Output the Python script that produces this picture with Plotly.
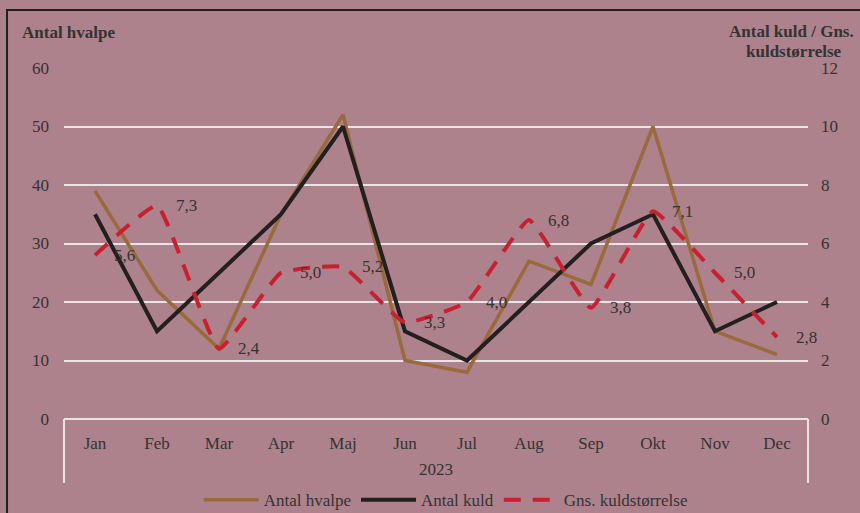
import plotly.graph_objects as go

months = ["Jan", "Feb", "Mar", "Apr", "Maj", "Jun", "Jul", "Aug", "Sep", "Okt", "Nov", "Dec"]
year = "2023"
hvalpe = [39, 22, 12, 35, 52, 10, 8, 27, 23, 50, 15, 11]
kuld = [7, 3, 5, 7, 10, 3, 2, 4, 6, 7, 3, 4]
gns = [5.6, 7.3, 2.4, 5.0, 5.2, 3.3, 4.0, 6.8, 3.8, 7.1, 5.0, 2.8]
gns_labels = [f"{v:.1f}".replace(".", ",") for v in gns]

FONT = "Liberation Serif"
TXT = "#333333"
BG = "#AE828C"
GRID = "#E8E4E6"
FS = 17

fig = go.Figure()
fig.add_trace(go.Scatter(x=months, y=hvalpe, name="Antal hvalpe", mode="lines",
                         line=dict(color="#986A3C", width=3.5)))
fig.add_trace(go.Scatter(x=months, y=kuld, name="Antal kuld", mode="lines", yaxis="y2",
                         line=dict(color="#231F20", width=4)))
fig.add_trace(go.Scatter(x=months, y=gns, name="Gns. kuldstørrelse", mode="lines", yaxis="y2",
                         line=dict(color="#C8202F", width=4, dash="17px,12px", shape="spline", smoothing=0.35)))

annotations = [
    dict(text="<b>Antal hvalpe</b>", xref="paper", yref="paper", x=-0.059, y=1.10,
         xanchor="left", yanchor="middle", showarrow=False,
         font=dict(family=FONT, size=17, color=TXT)),
    dict(text="<b>Antal kuld / Gns.</b>", xref="paper", yref="paper",
         x=1.063, y=1.105, xanchor="right", yanchor="middle", showarrow=False, borderpad=0,
         font=dict(family=FONT, size=17, color=TXT)),
    dict(text="<b>kuldstørrelse</b>", xref="paper", yref="paper",
         x=1.047, y=1.048, xanchor="right", yanchor="middle", showarrow=False, borderpad=0,
         font=dict(family=FONT, size=17, color=TXT)),
    dict(text=year, xref="paper", yref="paper", x=0.5, y=-0.145, xanchor="center", yanchor="middle",
         showarrow=False, font=dict(family=FONT, size=FS, color=TXT)),
]
for m, v, lab in zip(months, gns, gns_labels):
    annotations.append(dict(text=lab, x=m, y=v, xref="x", yref="y2", xanchor="left", yanchor="middle",
                            xshift=17, showarrow=False, font=dict(family=FONT, size=FS, color=TXT)))

fig.update_layout(
    width=860, height=513,
    paper_bgcolor=BG, plot_bgcolor=BG,
    margin=dict(l=64, r=52, t=68, b=94, autoexpand=False),
    font=dict(family=FONT, size=FS, color=TXT),
    showlegend=True,
    legend=dict(orientation="h", x=0.513, xanchor="center", y=-0.231, yanchor="middle",
                font=dict(family=FONT, size=FS, color=TXT), bgcolor="rgba(0,0,0,0)",
                itemwidth=55),
    xaxis=dict(range=[-0.5, 11.5], showgrid=False, zeroline=False, showline=False, automargin=False,
               tickfont=dict(family=FONT, size=FS, color=TXT), ticks="", ticklabelstandoff=12),
    yaxis=dict(range=[0, 60], dtick=10, showgrid=True, gridcolor=GRID, gridwidth=2,
               zeroline=True, zerolinecolor=GRID, zerolinewidth=2, showline=False, automargin=False,
               tickfont=dict(family=FONT, size=FS, color=TXT), ticklabelstandoff=14),
    yaxis2=dict(range=[0, 12], dtick=2, overlaying="y", side="right", showgrid=False,
                zeroline=False, showline=False, automargin=False,
                tickfont=dict(family=FONT, size=FS, color=TXT), ticklabelstandoff=12),
    annotations=annotations,
    shapes=[
        dict(type="line", xref="paper", yref="paper", x0=0, x1=0, y0=0, y1=-0.182,
             line=dict(color=GRID, width=2)),
        dict(type="line", xref="paper", yref="paper", x0=1, x1=1, y0=0, y1=-0.182,
             line=dict(color=GRID, width=2)),
        dict(type="rect", xref="paper", yref="paper", x0=-0.0766, x1=1.2, y0=-0.5, y1=1.165,
             line=dict(color="#231F20", width=2), fillcolor="rgba(0,0,0,0)", layer="below"),
    ],
)

fig.write_html("out.html", config={"displayModeBar": False},
               post_script="document.body.style.margin='0';document.body.style.background='#AE828C';")
